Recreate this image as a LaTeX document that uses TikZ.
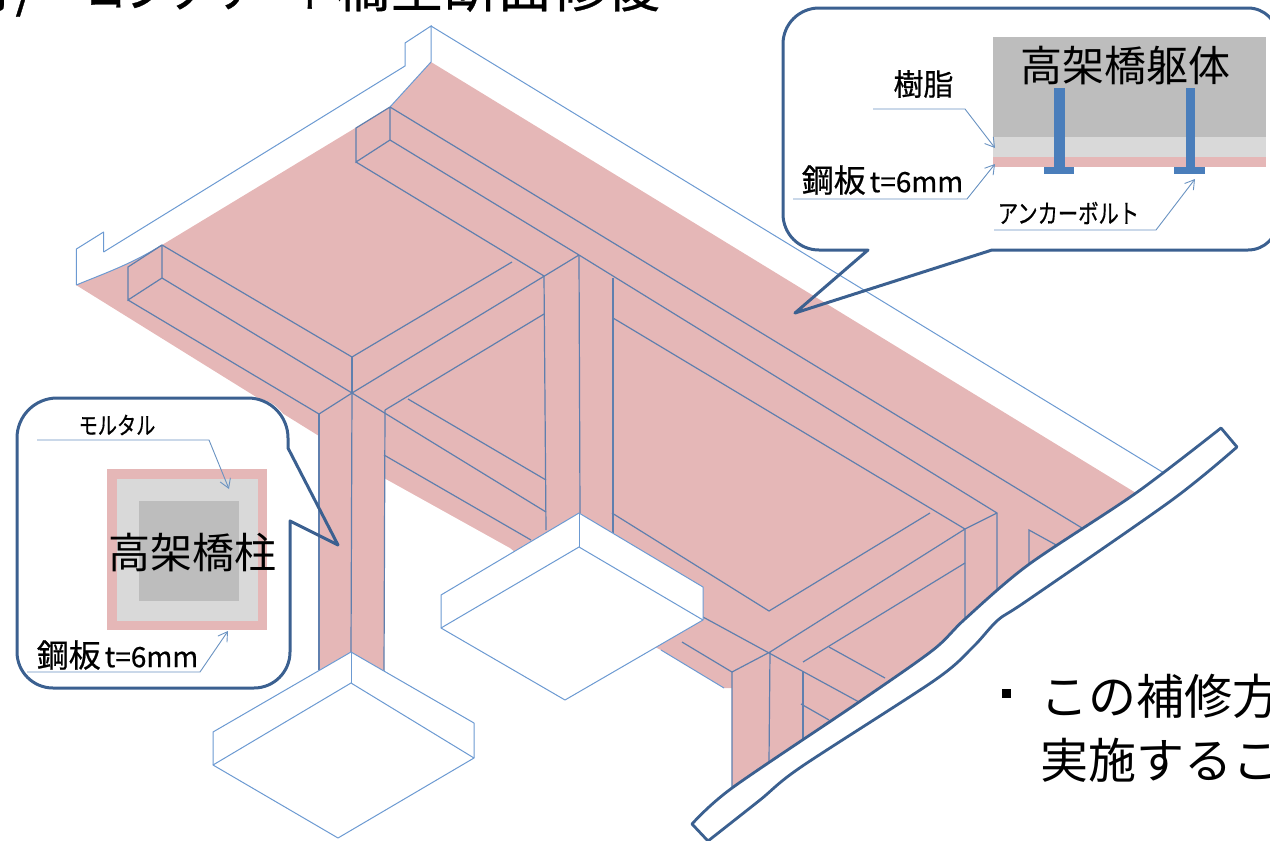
\documentclass[tikz,border=0pt]{standalone}
\usepackage{fontspec}
\usepackage{graphicx}
\setmainfont{Noto Sans CJK JP}
\newfontfamily\heavy[FakeBold=0.6]{Noto Sans CJK JP}
\usetikzlibrary{arrows.meta}
\definecolor{pinkfill}{HTML}{E5B7B7}
\definecolor{darkgrey}{HTML}{BDBDBD}
\definecolor{lightgrey}{HTML}{D9D9D9}
\definecolor{beamline}{HTML}{5F7FAE}
\definecolor{edgeline}{HTML}{6C9AD2}
\definecolor{calloutline}{HTML}{3B6090}
\definecolor{boltblue}{HTML}{4A7EBB}
\definecolor{leaderline}{HTML}{6A93C2}
\newcommand{\fsz}[1]{\fontsize{#1}{#1}\selectfont}
\tikzset{
  beam/.style={draw=beamline,line width=1.2pt},
  edge line/.style={draw=edgeline,line width=1pt},
  callout/.style={draw=calloutline,line width=3pt,line join=round},
  strip/.style={draw=calloutline,line width=2.8pt,fill=white,line join=round},
  footing/.style={fill=white,draw=edgeline,line width=1pt},
  leader/.style={draw=leaderline,line width=.9pt},
  leaderarrow/.style={leader,-{Straight Barb[length=9pt,width=11pt,line width=.9pt]}},
  label/.style={inner sep=0pt,text=black},
}
\begin{document}
\begin{tikzpicture}[x=1pt,y=-1pt]
\useasboundingbox (0,0) rectangle (1270,841);
\clip (0,0) rectangle (1270,841);

% deck and beams, pink
\fill[pinkfill] (431,62) -- (1136,493) -- (1140,495) -- (1085,531) -- (1031,568) -- (1000,593) -- (968,622) -- (936,653)
  -- (894,683) -- (862,705) -- (832,723) -- (806,743) -- (772,765) -- (735,791) -- (732,788) -- (732,688) -- (724,688)
  -- (661,650) -- (600,620) -- (510,548) -- (384,478) -- (384,672) -- (351,652) -- (319,670) -- (319,436)
  -- (76,285) .. controls (100,275) and (130,265) .. (162,245) -- (390,107) -- cycle;

% upper deck outline
\draw[edge line,line join=round] (103.6,252) -- (103.6,232) -- (76.4,249) -- (76.4,285);
\draw[edge line] (103.6,252) -- (405,66) -- (405,43) -- (431,26) -- (431,62) -- (390,107);
\draw[edge line] (431,26) -- (1164,473);
\draw[edge line] (76.4,285) .. controls (100,275) and (130,265) .. (162,245);

% long beam lines
\draw[beam] (390,107) -- (1082,528);
\draw[beam] (390,107) -- (390,140) -- (356,162) -- (356,128) -- (390,107);
\draw[beam] (390,140) -- (579,255) -- (997,513) -- (997,590);
\draw[beam] (356,162) -- (544,276);
\draw[beam] (162,245) -- (352,357) -- (512,262);
\draw[beam] (162,245) -- (162,278) -- (128,300) -- (128,267) -- (162,245);
\draw[beam] (162,278) -- (352,393) -- (546,512);
\draw[beam] (128,300) -- (319,414);
\draw[beam] (319,414) -- (352,393) -- (579,255);
\draw[beam] (352,357) -- (352,393);
\draw[beam] (544,276) -- (546,530);
\draw[beam] (579,255) -- (580,513);
\draw[beam] (544,314) -- (385,410);
\draw[beam] (319,414) -- (319,670);
\draw[beam] (352,393) -- (351,652);
\draw[beam] (385,410) -- (384,672);
\draw[beam] (384,455) -- (531,540);
\draw[beam] (408,399) -- (546,480);
\draw[beam] (613,278) -- (613,537);
\draw[beam] (613,318) -- (965,529) -- (965,619);
\draw[beam] (612,513) -- (769,611) -- (930,513);
\draw[beam] (997,513) -- (965,529) -- (770,652);
\draw[beam] (965,563) -- (803,662);
\draw[beam] (829,647) -- (885,678);
\draw[beam] (703,617) -- (859,702);
\draw[beam] (770,652) -- (732,672) -- (732,788);
\draw[beam] (682,642) -- (732,672);
\draw[beam] (770,652) -- (769,762);
\draw[beam] (803,672) -- (803,740);
\draw[beam] (801,704) -- (829,720);
\draw[beam] (1029,565) -- (1029,530) -- (1058,546);
\draw[edge line] (661,650) -- (724,688);

% footings
\draw[footing,line join=round] (579,513) -- (703,587) -- (703,620) -- (565,700) -- (441,628) -- (441,595) -- cycle;
\draw[edge line] (441,628) -- (579,547) -- (703,620);
\draw[edge line] (579,513) -- (579,547);
\draw[footing,line join=round] (351,652) -- (474,723) -- (474,758) -- (338,838) -- (213,765) -- (213,732) -- cycle;
\draw[edge line] (213,765) -- (351,683) -- (474,758);
\draw[edge line] (351,652) -- (351,683);

% cut line strip
\draw[strip] plot[smooth,tension=.5] coordinates {(1221,428) (1136,493) (1028,565) (965,619) (933,650) (859,702) (732,788) (692,824)}
  -- plot[smooth,tension=.5] coordinates {(708,841) (760,800) (801,767) (935,680) (973,647) (998,620) (1028,600) (1172,500) (1237,447)} -- cycle;

% right callout
\fill[white,rounded corners=36pt] (783,8) rectangle (1278,250);
\draw[callout] (783,130) [rounded corners=36pt] -- (783,8) [rounded corners=30pt] -- (1278,8) -- (1278,250) [sharp corners] -- (992,250) -- (795,313) -- (868,250) [rounded corners=36pt] -- (783,250) -- cycle;
\fill[darkgrey] (993,37) rectangle (1266,137);
\fill[lightgrey] (993,137) rectangle (1266,157);
\fill[pinkfill] (993,157) rectangle (1266,167);
\fill[boltblue] (1054,88) rectangle (1065,170);
\fill[boltblue] (1044,167) rectangle (1074,174);
\fill[boltblue] (1186,88) rectangle (1195,170);
\fill[boltblue] (1174,167) rectangle (1205,174);
\node[label] (deck) at (1125,66) {\fsz{42}高架橋躯体};
\node[label] (resin) at (923.5,84) {\heavy\fsz{30}樹脂};
\node[label] (plateR) at (882.5,180) {\fsz{32}\heavy 鋼板\hspace{4pt}\fsz{28}t=6mm};
\node[label] (anchor) at (1068.5,213) {\scalebox{.78}[1]{\heavy\fsz{26}アンカーボルト}};
\coordinate (resinA) at (873,109);
\coordinate (resinB) at (965,109);
\coordinate (resinT) at (995,148);
\coordinate (plateRA) at (793,199);
\coordinate (plateRB) at (967,199);
\coordinate (plateRT) at (995,164);
\coordinate (anchorA) at (994,230);
\coordinate (anchorB) at (1156,230);
\coordinate (anchorT) at (1195,179);
\draw[leaderarrow] (resinA) -- (resinB) -- (resinT);
\draw[leaderarrow] (plateRA) -- (plateRB) -- (plateRT);
\draw[leaderarrow] (anchorA) -- (anchorB) -- (anchorT);

% left callout
\fill[white,rounded corners=38pt] (17,398) rectangle (290,688);
\draw[callout] (17,500) [rounded corners=40pt] -- (17,398) -- (288,398) [sharp corners] -- (288,448) -- (338,545) -- (290,521) [rounded corners=36pt] -- (290,688) -- (17,688) -- cycle;
\fill[pinkfill] (107,469) rectangle (267,630);
\fill[lightgrey] (117,479) rectangle (258,621);
\fill[darkgrey] (139,501) rectangle (239,601);
\node[label] (column) at (192,553) {\fsz{42}高架橋柱};
\node[label] (mortar) at (117,425) {\scalebox{.8}[1]{\heavy\fsz{24}モルタル}};
\node[label] (plateL) at (117.5,655) {\fsz{32}\heavy 鋼板\hspace{4pt}\fsz{28}t=6mm};
\coordinate (mortarA) at (37,440);
\coordinate (mortarB) at (209,440);
\coordinate (mortarT) at (229,489);
\coordinate (plateLA) at (27,672);
\coordinate (plateLB) at (200,672);
\coordinate (plateLT) at (228,631);
\draw[leaderarrow] (mortarA) -- (mortarB) -- (mortarT);
\draw[leaderarrow] (plateLA) -- (plateLB) -- (plateLT);

% cropped page text
\node[label,anchor=base east] (title) at (660,7) {\heavy\fsz{54}打/\hspace{48pt}\scalebox{.775}[1]{コンクリート}橋全断面修復};
\fill[black] (1002,689) rectangle (1011,698);
\node[label,anchor=base west] (noteA) at (1040,714) {\fsz{48}この補修方};
\node[label,anchor=base west] (noteB) at (1040,778) {\fsz{48}実施するこ};
\end{tikzpicture}
\end{document}
